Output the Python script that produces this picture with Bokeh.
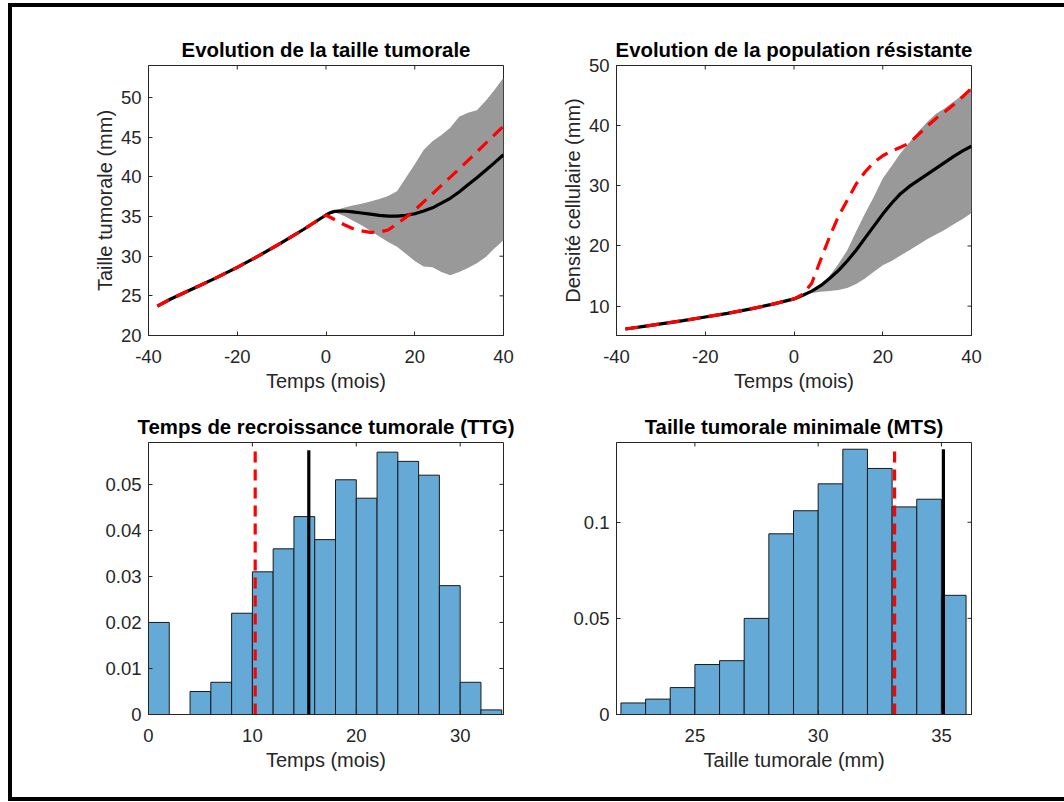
from bokeh.plotting import figure
from bokeh.layouts import row, column
from bokeh.models import Range1d, FixedTicker, CustomJSTickFormatter, Div
from bokeh.embed import file_html
from bokeh.resources import INLINE

FONT = "Liberation Sans"
AX = "#262626"
GRAY = "#999999"
RED = "#ff0000"
HIST = "#65a9d7"

# ---------------- data ----------------
# Evolution de la taille tumorale
t_pre = [-38, -35, -30, -25, -20, -15, -10, -5, 0]
size_pre = [23.7, 24.6, 25.9, 27.2, 28.6, 30.1, 31.7, 33.4, 35.2]
t_mean = [1, 2, 4, 6, 8, 10, 12, 14, 16, 18, 20, 22, 24, 26, 28, 30, 32, 34, 36, 38, 40]
size_mean = [35.5, 35.65, 35.7, 35.6, 35.45, 35.3, 35.15, 35.05, 35.05, 35.15, 35.35,
             35.7, 36.1, 36.7, 37.3, 38.1, 39.0, 39.9, 40.85, 41.8, 42.8]
t_nom = [2, 4, 6, 8, 10, 12, 14, 16, 18, 20, 25, 30, 35, 40]
size_nom = [34.6, 34.0, 33.5, 33.2, 33.0, 33.05, 33.3, 34.1, 34.9, 35.8, 38.4, 41.0, 43.7, 46.4]
t_band = [1, 2, 4, 6, 8, 10, 12, 14, 16, 18, 20, 22, 24, 26, 28, 30, 32, 34, 36, 38, 40]
size_up = [35.5, 35.8, 36.1, 36.4, 36.6, 36.9, 37.2, 37.6, 38.2, 39.9, 41.6, 43.4, 44.5,
           45.3, 46.2, 47.6, 48.1, 48.4, 49.6, 51.0, 52.5]
size_lo = [35.5, 35.5, 35.1, 34.5, 33.9, 33.2, 32.5, 31.8, 31.2, 30.3, 29.4, 28.7, 28.6,
           28.0, 27.6, 28.0, 28.5, 29.1, 29.9, 31.0, 32.0]

# Evolution de la population resistante
dens_pre = [6.2, 6.5, 7.05, 7.6, 8.2, 8.8, 9.5, 10.3, 11.2]
t_post = [2, 4, 6, 8, 10, 12, 14, 16, 18, 20, 22, 24, 26, 28, 30, 32, 34, 36, 38, 40]
dens_mean = [11.8, 12.5, 13.4, 14.6, 15.9, 17.5, 19.3, 21.3, 23.3, 25.3, 27.1, 28.7, 29.9,
             30.9, 31.9, 32.9, 33.9, 34.9, 35.8, 36.6]
dens_nom = [12.0, 13.8, 17.7, 21.5, 24.9, 27.6, 30.3, 32.3, 33.9, 35.0, 35.8, 36.4, 37.1,
            38.5, 39.9, 41.2, 42.3, 43.5, 44.8, 46.2]
dens_up = [11.8, 12.6, 13.4, 15.0, 17.0, 19.3, 22.4, 25.4, 28.2, 31.2, 33.3, 35.4, 37.2,
           39.0, 40.6, 42.0, 42.9, 44.0, 45.1, 46.3]
dens_lo = [11.8, 12.2, 12.4, 12.5, 12.7, 13.0, 13.7, 14.6, 15.7, 16.8, 17.5, 18.4, 19.3,
           20.2, 21.1, 21.9, 22.7, 23.6, 24.5, 25.5]

# Temps de recroissance tumorale (TTG)
ttg_edges = [0, 2, 4, 6, 8, 10, 12, 14, 16, 18, 20, 22, 24, 26, 28, 30, 32, 34]
ttg_freq = [0.020, 0.0, 0.005, 0.007, 0.022, 0.031, 0.036, 0.043, 0.038, 0.051, 0.047,
            0.057, 0.055, 0.052, 0.028, 0.007, 0.001]
ttg_nominal = 10.27
ttg_mean = 15.43
ttg_line_top = 0.0574

# Taille tumorale minimale (MTS)
mts_edges = [22, 23, 24, 25, 26, 27, 28, 29, 30, 31, 32, 33, 34, 35, 36]
mts_freq = [0.006, 0.008, 0.014, 0.026, 0.028, 0.050, 0.094, 0.106, 0.120, 0.138, 0.128,
            0.108, 0.112, 0.062]
mts_nominal = 33.1
mts_mean = 35.08
mts_line_top = 0.138

fmt = CustomJSTickFormatter(code="return String(tick);")
TICK_PX = 4


def make_fig(title, width, height, xr, yr, borders, xticks, yticks, xlabel, ylabel):
    left, right, top, bottom = borders
    p = figure(width=width, height=height, x_range=Range1d(*xr), y_range=Range1d(*yr),
               output_backend="svg", toolbar_location=None, margin=0,
               min_border_left=left, min_border_right=right,
               min_border_top=top, min_border_bottom=bottom)
    p.grid.visible = False
    p.outline_line_color = AX
    p.outline_line_width = 1
    p.background_fill_color = "white"
    p.border_fill_color = "white"
    p.title.text = title
    p.title.align = "center"
    p.title.text_font = FONT
    p.title.text_font_size = "20.4px"
    p.title.text_font_style = "bold"
    p.title.text_color = "black"
    p.title.standoff = 10
    for ax, ticks in ((p.xaxis[0], xticks), (p.yaxis[0], yticks)):
        ax.ticker = FixedTicker(ticks=ticks)
        ax.formatter = fmt
        ax.major_label_text_font = FONT
        ax.major_label_text_font_size = "18.5px"
        ax.major_label_text_color = AX
        ax.axis_line_color = AX
        ax.major_tick_line_color = AX
        ax.major_tick_in = TICK_PX
        ax.major_tick_out = 0
        ax.minor_tick_in = 0
        ax.minor_tick_out = 0
        ax.axis_label_text_font = FONT
        ax.axis_label_text_font_size = "20px"
        ax.axis_label_text_font_style = "normal"
        ax.axis_label_text_color = AX
    p.xaxis[0].major_label_standoff = 14
    p.xaxis[0].axis_label_standoff = 4
    p.yaxis[0].major_label_standoff = 7
    p.yaxis[0].axis_label_standoff = 2
    if xlabel:
        p.xaxis[0].axis_label = xlabel
    if ylabel:
        p.yaxis[0].axis_label = ylabel
    # inward ticks on the top and right sides of the box
    fw = width - left - right
    fh = height - top - bottom
    dy = TICK_PX * (yr[1] - yr[0]) / fh
    dx = TICK_PX * (xr[1] - xr[0]) / fw
    p.segment(x0=xticks, y0=[yr[1]] * len(xticks), x1=xticks, y1=[yr[1] - dy] * len(xticks),
              line_color=AX, line_width=1)
    p.segment(x0=[xr[1]] * len(yticks), y0=yticks, x1=[xr[1] - dx] * len(yticks), y1=yticks,
              line_color=AX, line_width=1)
    return p


# Top-left
p1 = make_fig("Evolution de la taille tumorale", 520, 400, (-40, 40), (20, 54.05),
              (136, 29, 57, 72), [-40, -20, 0, 20, 40], [20, 25, 30, 35, 40, 45, 50],
              "Temps (mois)", "Taille tumorale (mm)")
p1.varea(x=t_band, y1=size_lo, y2=size_up, fill_color=GRAY)
p1.line(t_pre + t_mean, size_pre + size_mean, line_color="black", line_width=3.2)
p1.line(t_pre + t_nom, size_pre + size_nom, line_color=RED, line_width=3.2, line_dash="13 8")

# Top-right
p2 = make_fig("Evolution de la population résistante", 532, 400, (-40, 40), (5.12, 50),
              (84, 93, 58, 71), [-40, -20, 0, 20, 40], [10, 20, 30, 40, 50],
              "Temps (mois)", "Densité cellulaire (mm)")
p2.varea(x=t_post, y1=dens_lo, y2=dens_up, fill_color=GRAY)
p2.line(t_pre + t_post, dens_pre + dens_mean, line_color="black", line_width=3.2)
p2.line(t_pre + t_post, dens_pre + dens_nom, line_color=RED, line_width=3.2, line_dash="13 8")

# Bottom-left
p3 = make_fig("Temps de recroissance tumorale (TTG)", 520, 390, (0, 34.17), (0, 0.0591),
              (136, 29, 35, 83), [0, 10, 20, 30], [0, 0.01, 0.02, 0.03, 0.04, 0.05],
              "Temps (mois)", None)
p3.quad(left=ttg_edges[:-1], right=ttg_edges[1:], bottom=0, top=ttg_freq,
        fill_color=HIST, line_color="#1a1a1a", line_width=1)
p3.segment(x0=[ttg_nominal], y0=[0], x1=[ttg_nominal], y1=[ttg_line_top],
           line_color=RED, line_width=3.2, line_dash="11 7")
p3.segment(x0=[ttg_mean], y0=[0], x1=[ttg_mean], y1=[ttg_line_top],
           line_color="black", line_width=3.2)

# Bottom-right
p4 = make_fig("Taille tumorale minimale (MTS)", 532, 390, (21.82, 36.22), (0, 0.1415),
              (84, 93, 35, 83), [25, 30, 35], [0, 0.05, 0.1],
              "Taille tumorale (mm)", None)
p4.quad(left=mts_edges[:-1], right=mts_edges[1:], bottom=0, top=mts_freq,
        fill_color=HIST, line_color="#1a1a1a", line_width=1)
p4.segment(x0=[mts_nominal], y0=[0], x1=[mts_nominal], y1=[mts_line_top],
           line_color=RED, line_width=3.2, line_dash="11 7")
p4.segment(x0=[mts_mean], y0=[0], x1=[mts_mean], y1=[mts_line_top],
           line_color="black", line_width=3.2)

bar = {"background-color": "black"}
top_bar = Div(text="", width=1056, height=4, margin=0, styles=bar)
left_bar = Div(text="", width=4, height=790, margin=0, styles=bar)
bottom_bar = Div(text="", width=1056, height=4, margin=0, styles=bar)
grid = column(row(p1, p2, margin=0), row(p3, p4, margin=0), margin=0)
layout = column(top_bar, row(left_bar, grid, margin=0), bottom_bar, margin=(3, 0, 0, 8))

open("out.html", "w").write(file_html(layout, INLINE))
